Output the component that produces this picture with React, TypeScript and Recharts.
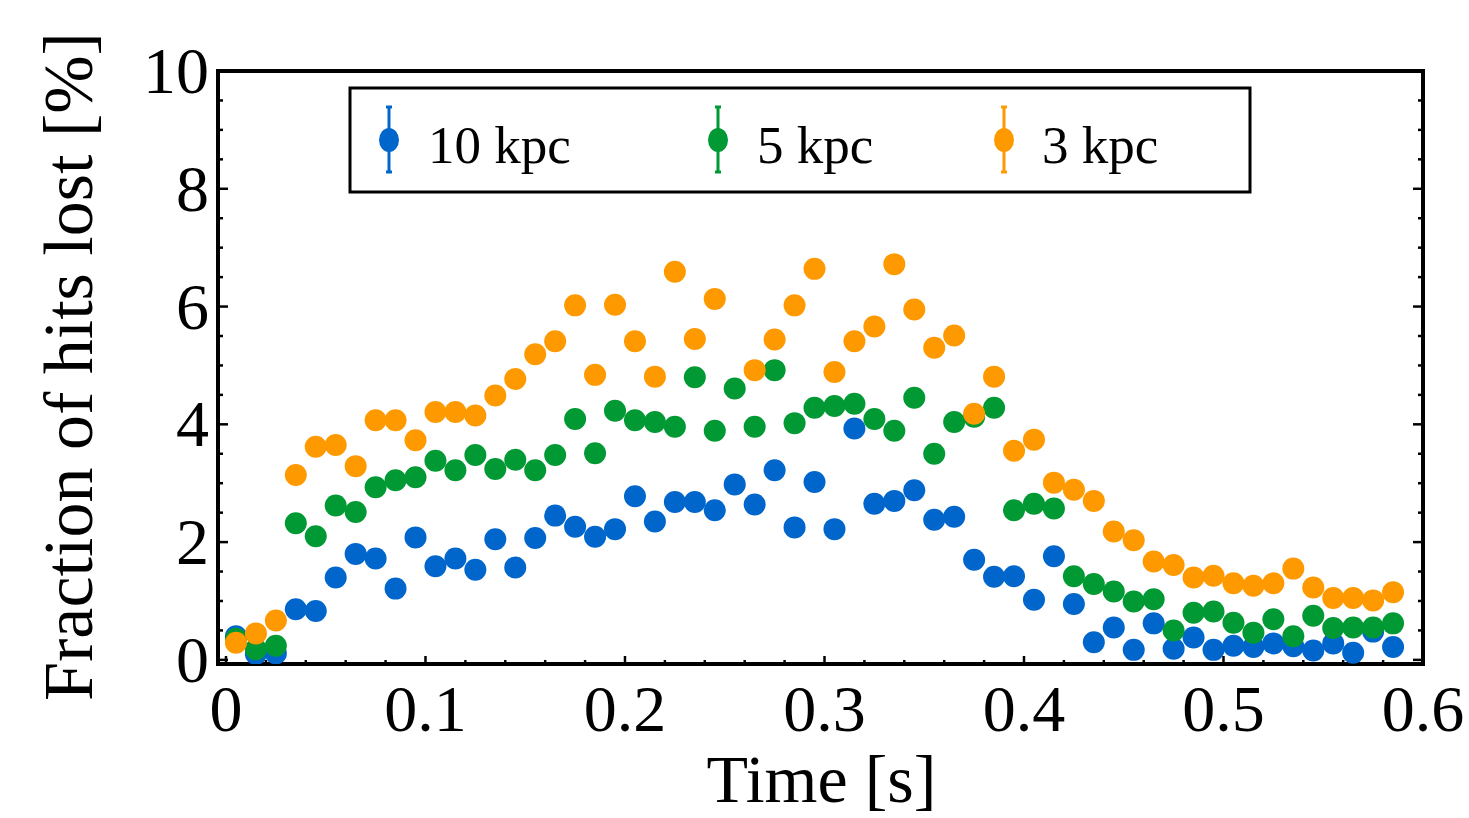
import React from 'react';
import { ScatterChart, Scatter, XAxis, YAxis, Legend } from 'recharts';

// ---- data ----
const times = [
  0.005, 0.015, 0.025, 0.035, 0.045, 0.055, 0.065, 0.075, 0.085, 0.095,
  0.105, 0.115, 0.125, 0.135, 0.145, 0.155, 0.165, 0.175, 0.185, 0.195,
  0.205, 0.215, 0.225, 0.235, 0.245, 0.255, 0.265, 0.275, 0.285, 0.295,
  0.305, 0.315, 0.325, 0.335, 0.345, 0.355, 0.365, 0.375, 0.385, 0.395,
  0.405, 0.415, 0.425, 0.435, 0.445, 0.455, 0.465, 0.475, 0.485, 0.495,
  0.505, 0.515, 0.525, 0.535, 0.545, 0.555, 0.565, 0.575, 0.585,
];

const lost10kpc = [
  0.40, 0.10, 0.11, 0.86, 0.83, 1.40, 1.80, 1.72, 1.21, 2.08,
  1.59, 1.72, 1.53, 2.05, 1.57, 2.07, 2.45, 2.26, 2.09, 2.22,
  2.78, 2.35, 2.68, 2.68, 2.54, 2.98, 2.64, 3.22, 2.25, 3.02,
  2.22, 3.93, 2.65, 2.70, 2.88, 2.38, 2.43, 1.70, 1.41, 1.42,
  1.02, 1.76, 0.95, 0.30, 0.55, 0.17, 0.62, 0.19, 0.38, 0.17,
  0.24, 0.22, 0.28, 0.23, 0.16, 0.28, 0.12, 0.48, 0.22,
];

const lost5kpc = [
  0.36, 0.18, 0.24, 2.32, 2.10, 2.62, 2.51, 2.93, 3.05, 3.10,
  3.38, 3.22, 3.48, 3.24, 3.40, 3.22, 3.48, 4.09, 3.51, 4.23,
  4.07, 4.04, 3.96, 4.80, 3.89, 4.61, 3.96, 4.92, 4.02, 4.28,
  4.31, 4.35, 4.09, 3.89, 4.45, 3.50, 4.04, 4.13, 4.28, 2.54,
  2.65, 2.57, 1.42, 1.29, 1.16, 0.99, 1.03, 0.50, 0.80, 0.82,
  0.63, 0.46, 0.69, 0.40, 0.75, 0.54, 0.55, 0.55, 0.62,
];

const lost3kpc: (number | null)[] = [
  0.29, 0.45, 0.67, 3.14, 3.62, 3.65, 3.29, 4.07, 4.07, 3.73,
  4.21, 4.21, 4.15, 4.49, 4.77, 5.19, 5.41, 6.02, 4.84, 6.03,
  5.41, 4.81, 6.59, 5.45, 6.13, null, 4.92, 5.44, 6.02, 6.64,
  4.89, 5.41, 5.66, 6.72, 5.95, 5.30, 5.51, 4.18, 4.81, 3.55,
  3.74, 3.01, 2.89, 2.70, 2.18, 2.03, 1.67, 1.61, 1.40, 1.43,
  1.30, 1.26, 1.30, 1.55, 1.23, 1.05, 1.05, 1.01, 1.15,
];

const seriesNames = ['10 kpc', '5 kpc', '3 kpc'];
const seriesColors = ['#0066CC', '#009933', '#FF9900'];

const xTicks = [
  0, 0.02, 0.04, 0.06, 0.08, 0.1, 0.12, 0.14, 0.16, 0.18, 0.2, 0.22, 0.24, 0.26, 0.28,
  0.3, 0.32, 0.34, 0.36, 0.38, 0.4, 0.42, 0.44, 0.46, 0.48, 0.5, 0.52, 0.54, 0.56, 0.58, 0.6,
];
const xMajor = [0, 0.1, 0.2, 0.3, 0.4, 0.5, 0.6];
const yTicks = [
  0, 0.5, 1, 1.5, 2, 2.5, 3, 3.5, 4, 4.5, 5, 5.5, 6, 6.5, 7, 7.5, 8, 8.5, 9, 9.5, 10,
];
const yMajor = [0, 2, 4, 6, 8, 10];

const xLabel = 'Time [s]';
const yLabel = 'Fraction of hits lost [%]';

// ---- build series tables ----
const toPoints = (vals: (number | null)[]) =>
  times
    .map((t, i) => ({ x: t, y: vals[i] }))
    .filter((p) => p.y !== null && p.y !== undefined);

const seriesData = [toPoints(lost10kpc), toPoints(lost5kpc), toPoints(lost3kpc)];

const FONT = '"Liberation Serif", "Times New Roman", Times, serif';
const isIn = (arr: number[], v: number) => arr.some((a) => Math.abs(a - v) < 1e-9);
const fmt = (v: number) => (v === 0 ? '0' : String(Math.round(v * 10) / 10));

const BottomTick = (props: any) => {
  const { x, y, payload } = props;
  const major = isIn(xMajor, payload.value);
  return (
    <g>
      <line x1={x} y1={y} x2={x} y2={y - (major ? 8 : 4)} stroke="#000" strokeWidth={2.5} />
      {major && (
        <text x={x} y={y + 67} textAnchor="middle" fontFamily={FONT} fontSize={66} fill="#000">
          {fmt(payload.value)}
        </text>
      )}
    </g>
  );
};

const TopTick = (props: any) => {
  const { x, y, payload } = props;
  const major = isIn(xMajor, payload.value);
  return <line x1={x} y1={y} x2={x} y2={y + (major ? 8 : 4)} stroke="#000" strokeWidth={2.5} />;
};

const LeftTick = (props: any) => {
  const { x, y, payload } = props;
  const major = isIn(yMajor, payload.value);
  return (
    <g>
      <line x1={x} y1={y} x2={x + (major ? 10 : 5)} y2={y} stroke="#000" strokeWidth={2.5} />
      {major && (
        <text x={x - 9} y={y + 22} textAnchor="end" fontFamily={FONT} fontSize={66} fill="#000">
          {String(payload.value)}
        </text>
      )}
    </g>
  );
};

const RightTick = (props: any) => {
  const { x, y, payload } = props;
  const major = isIn(yMajor, payload.value);
  return <line x1={x} y1={y} x2={x - (major ? 10 : 5)} y2={y} stroke="#000" strokeWidth={2.5} />;
};

const XTitle = (props: any) => {
  const vb = props.viewBox || {};
  const cx = vb.x + vb.width / 2;
  return (
    <text x={cx + 1} y={vb.y + 138} textAnchor="middle" fontFamily={FONT} fontSize={68} fill="#000">
      {xLabel}
    </text>
  );
};

const YTitle = (props: any) => {
  const vb = props.viewBox || {};
  const cy = vb.y + vb.height / 2 - 1;
  const bx = 92;
  return (
    <text
      x={bx}
      y={cy}
      transform={`rotate(-90, ${bx}, ${cy})`}
      textAnchor="middle"
      fontFamily={FONT}
      fontSize={70}
      fill="#000"
    >
      {yLabel}
    </text>
  );
};

const legendSymbolX = [41, 370, 656];
const legendTextX = [80, 409, 694];

const LegendBox = () => (
  <svg width={906} height={110} style={{ display: 'block' }}>
    <rect x={2} y={2} width={900} height={104} fill="#fff" stroke="#000" strokeWidth={3} />
    {seriesNames.map((name, i) => (
      <g key={name}>
        <line x1={legendSymbolX[i]} y1={21} x2={legendSymbolX[i]} y2={86} stroke={seriesColors[i]} strokeWidth={3} />
        <line x1={legendSymbolX[i] - 3} y1={21} x2={legendSymbolX[i] + 3} y2={21} stroke={seriesColors[i]} strokeWidth={3} />
        <line x1={legendSymbolX[i] - 3} y1={86} x2={legendSymbolX[i] + 3} y2={86} stroke={seriesColors[i]} strokeWidth={3} />
        <ellipse cx={legendSymbolX[i]} cy={54} rx={10} ry={12} fill={seriesColors[i]} />
        <text x={legendTextX[i]} y={77} fontFamily={FONT} fontSize={53} fill="#000">
          {name}
        </text>
      </g>
    ))}
  </svg>
);

const axisLineStyle = { stroke: '#000', strokeWidth: 4, strokeLinecap: 'square' as const };

export default function App() {
  return (
    <div style={{ width: 1469, height: 818, background: '#fff' }}>
      <style>{'body{margin:0;overflow:hidden;background:#fff}'}</style>
      <ScatterChart
        width={1469}
        height={818}
        margin={{ top: 70, right: 45, bottom: 153, left: 217 }}
      >
        <XAxis
          xAxisId={0}
          type="number"
          dataKey="x"
          domain={[-0.004, 0.6]}
          allowDataOverflow
          ticks={xTicks}
          interval={0}
          height={1}
          tickSize={0}
          tickMargin={0}
          tick={<BottomTick />}
          tickLine={false}
          axisLine={axisLineStyle}
          label={<XTitle />}
        />
        <XAxis
          xAxisId="top"
          orientation="top"
          type="number"
          domain={[-0.004, 0.6]}
          allowDataOverflow
          ticks={xTicks}
          interval={0}
          height={1}
          tickSize={0}
          tickMargin={0}
          tick={<TopTick />}
          tickLine={false}
          axisLine={axisLineStyle}
        />
        <YAxis
          yAxisId={0}
          type="number"
          dataKey="y"
          domain={[-0.07, 10]}
          allowDataOverflow
          ticks={yTicks}
          interval={0}
          width={1}
          tickSize={0}
          tickMargin={0}
          tick={<LeftTick />}
          tickLine={false}
          axisLine={axisLineStyle}
          label={<YTitle />}
        />
        <YAxis
          yAxisId="right"
          orientation="right"
          type="number"
          domain={[-0.07, 10]}
          allowDataOverflow
          ticks={yTicks}
          interval={0}
          width={1}
          tickSize={0}
          tickMargin={0}
          tick={<RightTick />}
          tickLine={false}
          axisLine={axisLineStyle}
        />
        <Legend
          layout="horizontal"
          verticalAlign="middle"
          align="center"
          content={() => <LegendBox />}
          wrapperStyle={{ position: 'absolute', left: 348, top: 86, width: 906, height: 110 }}
        />
        {seriesData.map((pts, i) => (
          <Scatter
            key={seriesNames[i]}
            name={seriesNames[i]}
            data={pts}
            xAxisId={0}
            yAxisId={0}
            fill={seriesColors[i]}
            isAnimationActive={false}
            shape={(p: any) => <circle cx={p.cx} cy={p.cy} r={11} fill={seriesColors[i]} />}
          />
        ))}
      </ScatterChart>
    </div>
  );
}
